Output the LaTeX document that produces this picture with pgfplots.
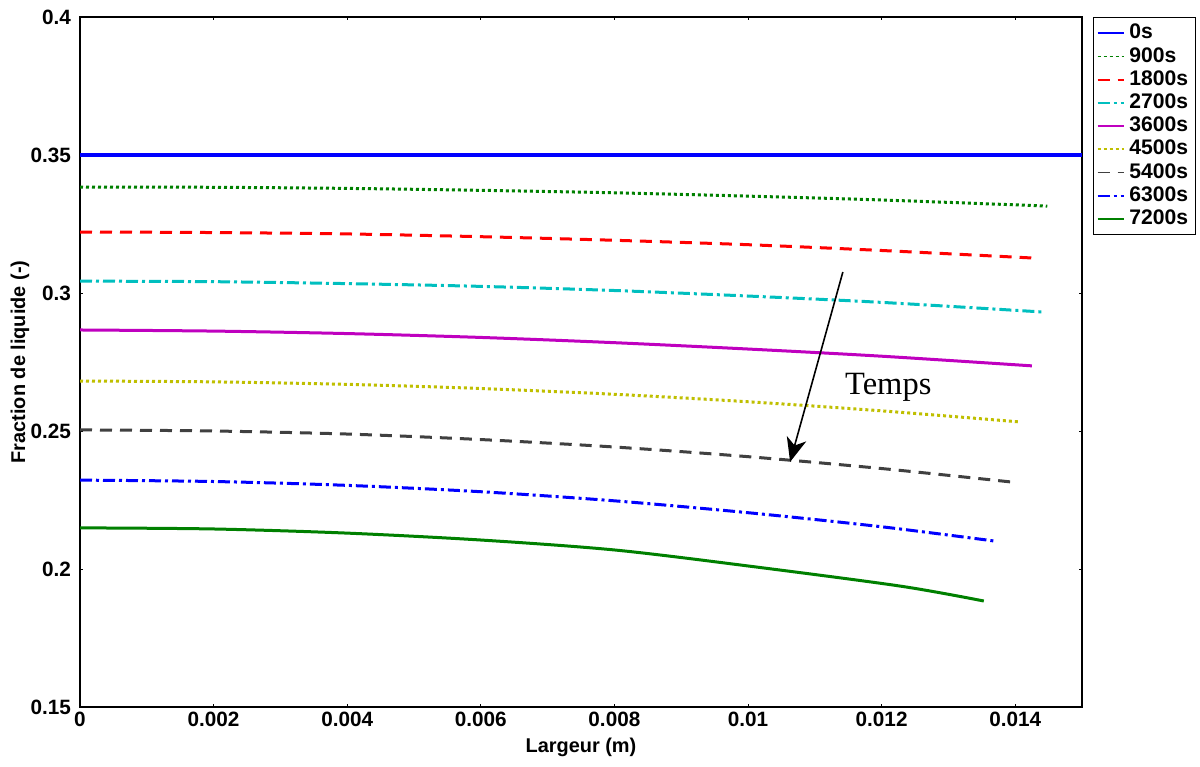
\documentclass[border=0pt]{standalone}
\usepackage{fontspec}
\setmainfont{Liberation Sans}
\newfontfamily\seriffont{Liberation Serif}
\usepackage{pgfplots}
\pgfplotsset{compat=1.18}
\usetikzlibrary{arrows.meta}
\definecolor{mgreen}{RGB}{0,128,0}
\definecolor{mcyan}{RGB}{0,191,191}
\definecolor{mmag}{RGB}{191,0,191}
\definecolor{myel}{RGB}{191,191,0}
\definecolor{mgray}{RGB}{64,64,64}
\begin{document}
\begin{tikzpicture}
\begin{axis}[
  scale only axis,
  width=501bp, height=345bp,
  xmin=0, xmax=0.015, ymin=0.15, ymax=0.4,
  scaled x ticks=false, scaled y ticks=false,
  xtick={0,0.002,0.004,0.006,0.008,0.01,0.012,0.014},
  xticklabels={0,0.002,0.004,0.006,0.008,0.01,0.012,0.014},
  ytick={0.15,0.2,0.25,0.3,0.35,0.4},
  yticklabels={0.15,0.2,0.25,0.3,0.35,0.4},
  tick align=inside, major tick length=1.5bp,
  tick style={black, line width=0.4bp},
  axis line style={black, line width=0.7bp},
  ticklabel style={font=\fontsize{10.4}{12}\selectfont\bfseries},
  xticklabel style={yshift=1bp},
  yticklabel style={xshift=-1bp},
  /pgf/number format/assume math mode=true,
  xlabel={Largeur (m)}, ylabel={Fraction de liquide (-)},
  every axis x label/.style={at={([yshift=-20bp]axis description cs:0.5,0)}, anchor=center, font=\fontsize{10}{11}\selectfont\bfseries},
  every axis y label/.style={at={([xshift=-30bp]axis description cs:0,0.5)}, anchor=center, rotate=90, font=\fontsize{10}{11}\selectfont\bfseries},
  legend style={at={(1.011,1)}, anchor=north west, draw=black, line width=0.6bp,
    font=\fontsize{10.6}{12}\selectfont\bfseries,
    nodes={inner xsep=2.2bp, inner ysep=1bp, text height=7.6bp, text depth=2bp, anchor=west},
    inner xsep=1.5bp, inner ysep=2bp, legend cell align=left},
  legend image code/.code={\draw[#1, line width=0.9bp] (0cm,0cm) -- (0.47cm,0cm);},
  clip=true,
]
\coordinate (sw) at (rel axis cs:0,0);
\coordinate (ne) at (rel axis cs:1,1);
\addplot[color=blue, line width=1.6bp] coordinates {(0,0.35) (0.015,0.35)};
\addlegendentry{0s}
\addplot[color=mgreen, line width=1.5bp, smooth, dash pattern=on 1.5bp off 1.5bp] coordinates {
(0,0.3384) (0.002,0.3383) (0.004,0.3379) (0.006,0.3372) (0.008,0.3363) (0.010,0.3351) (0.012,0.3337) (0.01448,0.3315)};
\addlegendentry{900s}
\addplot[color=red, line width=1.5bp, smooth, dash pattern=on 6bp off 4bp] coordinates {
(0,0.3221) (0.002,0.3219) (0.004,0.3214) (0.006,0.3204) (0.008,0.3191) (0.010,0.3175) (0.012,0.3154) (0.01424,0.3127)};
\addlegendentry{1800s}
\addplot[color=mcyan, line width=1.5bp, smooth, dash pattern=on 6bp off 2bp on 1.5bp off 2bp] coordinates {
(0,0.3043) (0.002,0.3041) (0.004,0.3034) (0.006,0.3024) (0.008,0.3009) (0.010,0.2989) (0.012,0.2966) (0.01442,0.2931)};
\addlegendentry{2700s}
\addplot[color=mmag, line width=1.5bp, smooth] coordinates {
(0,0.2866) (0.002,0.2862) (0.004,0.2853) (0.006,0.2839) (0.008,0.2820) (0.010,0.2797) (0.012,0.2771) (0.01425,0.2736)};
\addlegendentry{3600s}
\addplot[color=myel, line width=1.5bp, smooth, dash pattern=on 1.5bp off 1.5bp] coordinates {
(0,0.2681) (0.002,0.2678) (0.004,0.2669) (0.006,0.2654) (0.008,0.2633) (0.010,0.2606) (0.012,0.2573) (0.01406,0.2533)};
\addlegendentry{4500s}
\addplot[color=mgray, line width=1.5bp, smooth, dash pattern=on 6bp off 4bp] coordinates {
(0,0.2504) (0.002,0.2500) (0.004,0.2489) (0.006,0.2469) (0.008,0.2442) (0.010,0.2407) (0.012,0.2364) (0.01395,0.2315)};
\addlegendentry{5400s}
\addplot[color=blue, line width=1.5bp, smooth, dash pattern=on 6bp off 2bp on 1.5bp off 2bp] coordinates {
(0,0.2322) (0.002,0.2317) (0.004,0.2303) (0.006,0.2280) (0.008,0.2247) (0.010,0.2204) (0.012,0.2153) (0.0137,0.2101)};
\addlegendentry{6300s}
\addplot[color=mgreen, line width=1.5bp, smooth] coordinates {
(0,0.2149) (0.002,0.2145) (0.004,0.2130) (0.006,0.2105) (0.008,0.2069) (0.010,0.2011) (0.01228,0.1938) (0.01353,0.1884)};
\addlegendentry{7200s}
\draw[-{Stealth[length=12bp,width=10bp,inset=3.5bp]}, line width=0.8bp] (axis cs:0.01142,0.3076) -- (axis cs:0.01063,0.2388);
\node[font=\seriffont\fontsize{16.3}{18}\selectfont] at (axis cs:0.01210,0.2659) {Temps};
\end{axis}
\pgfresetboundingbox
\path ([shift={(-40bp,-30bp)}]sw) rectangle ([shift={(59bp,8.5bp)}]ne);
\end{tikzpicture}
\end{document}
